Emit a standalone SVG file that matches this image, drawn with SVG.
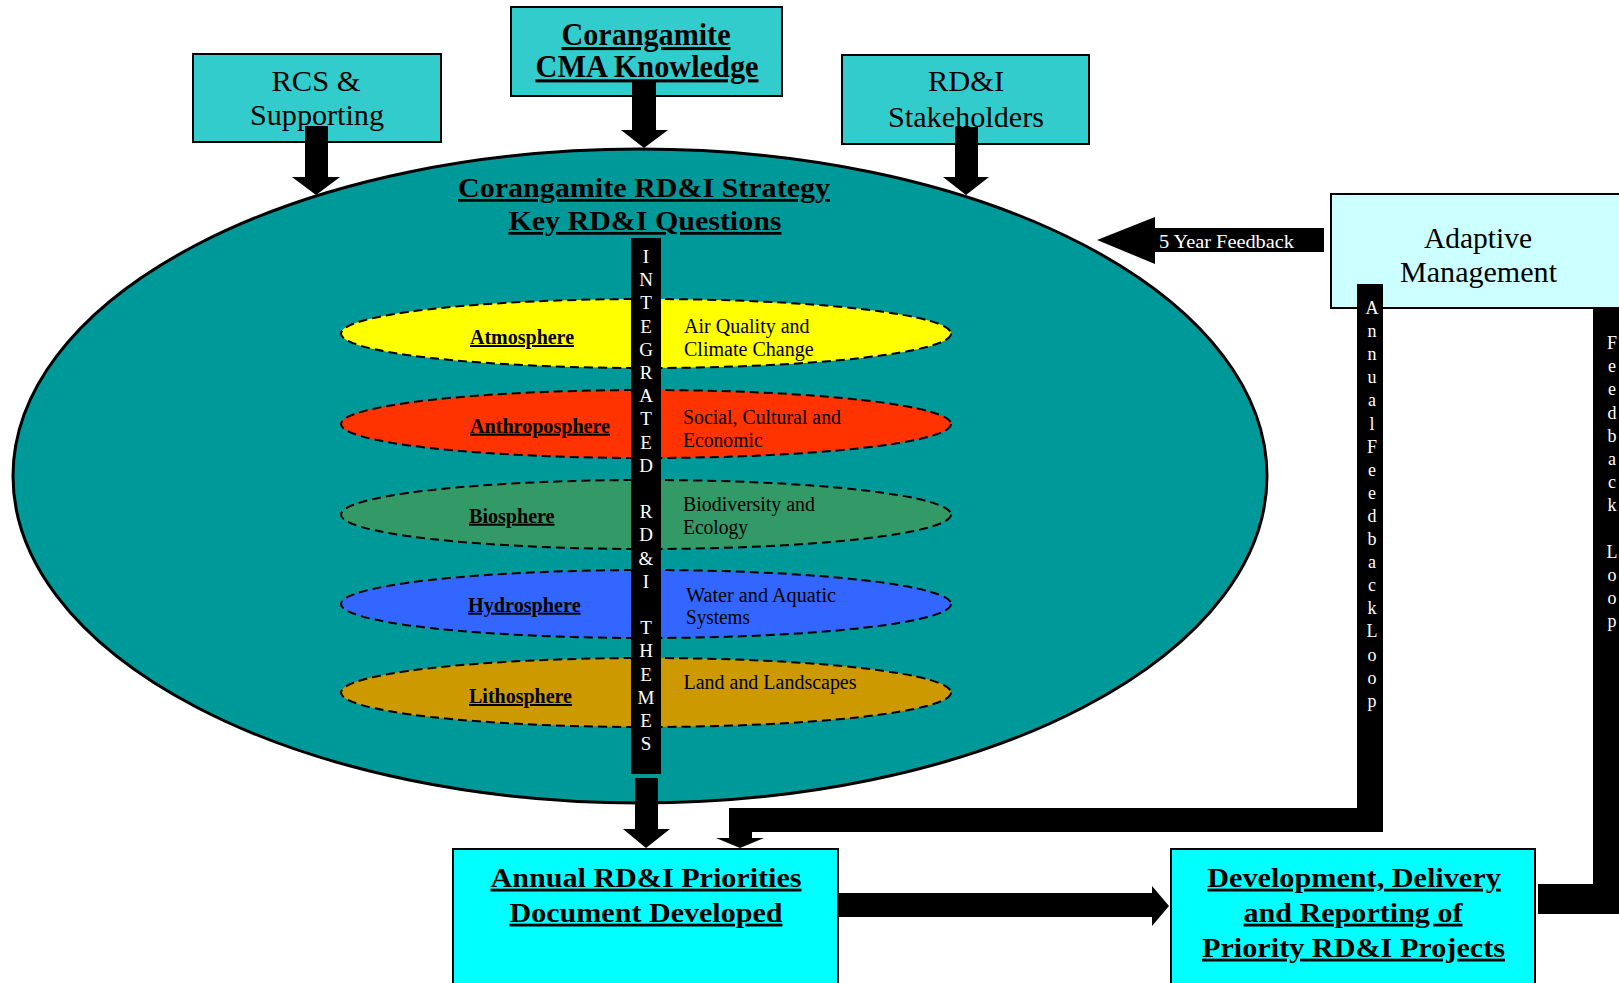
<svg xmlns="http://www.w3.org/2000/svg" width="1619" height="983" viewBox="0 0 1619 983">
<style>
text{font-family:"Liberation Serif","Times New Roman",serif;fill:#000}
.b{font-weight:bold;text-decoration:underline}
.m{text-anchor:middle}
.w{fill:#fff}
.box{stroke:#000;stroke-width:2}
.th{stroke:#000;stroke-width:2;stroke-dasharray:9 5}
.arr{fill:#000}
</style>
<rect width="1619" height="983" fill="#fff"/>

<g id="strategy">
<ellipse cx="640" cy="476" rx="627" ry="327" fill="#009999" stroke="#000" stroke-width="3"/>
<text class="b m" x="644" y="197" font-size="27" textLength="372" lengthAdjust="spacingAndGlyphs">Corangamite RD&amp;I Strategy</text>
<text class="b m" x="645" y="230" font-size="27" textLength="273" lengthAdjust="spacingAndGlyphs">Key RD&amp;I Questions</text>
</g>

<g id="atmosphere">
<ellipse cx="646" cy="333.5" rx="305" ry="34.5" fill="#FFFF00" class="th"/>
<text class="b" x="470" y="344" font-size="20" textLength="104" lengthAdjust="spacingAndGlyphs">Atmosphere</text>
<text x="684" y="332.7" font-size="20" textLength="125.6" lengthAdjust="spacingAndGlyphs">Air Quality and</text>
<text x="684" y="356" font-size="20" textLength="129.7" lengthAdjust="spacingAndGlyphs">Climate Change</text>
</g>
<g id="anthroposphere">
<ellipse cx="646" cy="424" rx="305" ry="34" fill="#FF3300" class="th"/>
<text class="b" x="470" y="432.7" font-size="20" textLength="140" lengthAdjust="spacingAndGlyphs">Anthroposphere</text>
<text x="683" y="424" font-size="20" textLength="158" lengthAdjust="spacingAndGlyphs">Social, Cultural and</text>
<text x="683" y="446.7" font-size="20" textLength="79.6" lengthAdjust="spacingAndGlyphs">Economic</text>
</g>
<g id="biosphere">
<ellipse cx="646" cy="514.5" rx="305" ry="34.5" fill="#339966" class="th"/>
<text class="b" x="469" y="522.7" font-size="20" textLength="85.5" lengthAdjust="spacingAndGlyphs">Biosphere</text>
<text x="683" y="510.7" font-size="20" textLength="132" lengthAdjust="spacingAndGlyphs">Biodiversity and</text>
<text x="683" y="534" font-size="20" textLength="65" lengthAdjust="spacingAndGlyphs">Ecology</text>
</g>
<g id="hydrosphere">
<ellipse cx="646" cy="604" rx="305" ry="34" fill="#3366FF" class="th"/>
<text class="b" x="468" y="611.7" font-size="20" textLength="112.6" lengthAdjust="spacingAndGlyphs">Hydrosphere</text>
<text x="686" y="601.7" font-size="20" textLength="150" lengthAdjust="spacingAndGlyphs">Water and Aquatic</text>
<text x="686" y="624" font-size="20" textLength="64" lengthAdjust="spacingAndGlyphs">Systems</text>
</g>
<g id="lithosphere">
<ellipse cx="646" cy="692.5" rx="305" ry="34.5" fill="#CC9900" class="th"/>
<text class="b" x="469" y="703" font-size="20" textLength="103" lengthAdjust="spacingAndGlyphs">Lithosphere</text>
<text x="683.5" y="689" font-size="20" textLength="173" lengthAdjust="spacingAndGlyphs">Land and Landscapes</text>
</g>

<g id="integrated-themes">
<rect x="631" y="238" width="30" height="536" fill="#000"/>
<text class="w m" font-size="19">
<tspan x="646" y="263">I</tspan><tspan x="646" dy="23.2">N</tspan><tspan x="646" dy="23.2">T</tspan><tspan x="646" dy="23.2">E</tspan><tspan x="646" dy="23.2">G</tspan><tspan x="646" dy="23.2">R</tspan><tspan x="646" dy="23.2">A</tspan><tspan x="646" dy="23.2">T</tspan><tspan x="646" dy="23.2">E</tspan><tspan x="646" dy="23.2">D</tspan><tspan x="646" dy="46.4">R</tspan><tspan x="646" dy="23.2">D</tspan><tspan x="646" dy="23.2">&amp;</tspan><tspan x="646" dy="23.2">I</tspan><tspan x="646" dy="46.4">T</tspan><tspan x="646" dy="23.2">H</tspan><tspan x="646" dy="23.2">E</tspan><tspan x="646" dy="23.2">M</tspan><tspan x="646" dy="23.2">E</tspan><tspan x="646" dy="23.2">S</tspan>
</text>
</g>

<g id="rcs">
<rect x="193" y="54" width="248" height="88" fill="#33CCCC" class="box"/>
<text class="m" x="316" y="90.7" font-size="29" textLength="89" lengthAdjust="spacingAndGlyphs">RCS &amp;</text>
<text class="m" x="317" y="125" font-size="29" textLength="134" lengthAdjust="spacingAndGlyphs">Supporting</text>
</g>
<g id="cma-knowledge">
<rect x="511" y="7" width="271" height="89" fill="#33CCCC" class="box"/>
<text class="b m" x="646" y="45" font-size="31" textLength="169" lengthAdjust="spacingAndGlyphs">Corangamite</text>
<text class="b m" x="647" y="77.3" font-size="31" textLength="223" lengthAdjust="spacingAndGlyphs">CMA Knowledge</text>
</g>
<g id="stakeholders">
<rect x="842" y="55" width="247" height="89" fill="#33CCCC" class="box"/>
<text class="m" x="966" y="90.7" font-size="29" textLength="76" lengthAdjust="spacingAndGlyphs">RD&amp;I</text>
<text class="m" x="966" y="126.7" font-size="29" textLength="156" lengthAdjust="spacingAndGlyphs">Stakeholders</text>
</g>

<g id="connectors">
<polygon class="arr" points="305,126 328,126 328,177 340,177 316,195 292,177 305,177"/>
<polygon class="arr" points="632,80 656,80 656,130 668,130 644,148 621,130 632,130"/>
<polygon class="arr" points="955,127 978,127 978,177 989,177 966,195 943,177 955,177"/>
<polygon class="arr" points="635,778 658,778 658,829 670,829 646,848 623,829 635,829"/>
<polygon class="arr" points="839,893 1152,893 1152,886 1169,906 1152,926 1152,917 839,917"/>
<g id="five-year-feedback">
<polygon class="arr" points="1324,228 1155,228 1155,217 1097,240 1155,264 1155,252 1324,252"/>
<text class="w" x="1159" y="248.3" font-size="19" textLength="135" lengthAdjust="spacingAndGlyphs">5 Year Feedback</text>
</g>
<g id="feedback-loop">
<polygon class="arr" points="1593,308 1625,308 1625,914 1538,914 1538,884 1593,884"/>
<text class="w m" font-size="18">
<tspan x="1612" y="349">F</tspan><tspan x="1612" dy="23.2">e</tspan><tspan x="1612" dy="23.2">e</tspan><tspan x="1612" dy="23.2">d</tspan><tspan x="1612" dy="23.2">b</tspan><tspan x="1612" dy="23.2">a</tspan><tspan x="1612" dy="23.2">c</tspan><tspan x="1612" dy="23.2">k</tspan><tspan x="1612" dy="46.4">L</tspan><tspan x="1612" dy="23.2">o</tspan><tspan x="1612" dy="23.2">o</tspan><tspan x="1612" dy="23.2">p</tspan>
</text>
</g>
</g>

<g id="adaptive-management">
<rect x="1331" y="194" width="300" height="114" fill="#CCFFFF" class="box"/>
<text class="m" x="1478" y="248.3" font-size="30" textLength="108" lengthAdjust="spacingAndGlyphs">Adaptive</text>
<text class="m" x="1478.5" y="281.7" font-size="30" textLength="157" lengthAdjust="spacingAndGlyphs">Management</text>
</g>

<g id="annual-feedback-loop">
<polygon class="arr" points="1357,284 1383,284 1383,832 752,832 752,838 764,838 740,848 716,838 729,838 729,808 1357,808"/>
<text class="w m" font-size="18">
<tspan x="1372" y="314">A</tspan><tspan x="1372" dy="23.1">n</tspan><tspan x="1372" dy="23.1">n</tspan><tspan x="1372" dy="23.1">u</tspan><tspan x="1372" dy="23.1">a</tspan><tspan x="1372" dy="23.1">l</tspan><tspan x="1372" dy="23.1">F</tspan><tspan x="1372" dy="23.1">e</tspan><tspan x="1372" dy="23.1">e</tspan><tspan x="1372" dy="23.1">d</tspan><tspan x="1372" dy="23.1">b</tspan><tspan x="1372" dy="23.1">a</tspan><tspan x="1372" dy="23.1">c</tspan><tspan x="1372" dy="23.1">k</tspan><tspan x="1372" dy="23.1">L</tspan><tspan x="1372" dy="23.1">o</tspan><tspan x="1372" dy="23.1">o</tspan><tspan x="1372" dy="23.1">p</tspan>
</text>
</g>

<g id="annual-priorities">
<rect x="453" y="849" width="385" height="150" fill="#00FFFF" class="box"/>
<text class="b m" x="646" y="886.7" font-size="28" textLength="311" lengthAdjust="spacingAndGlyphs">Annual RD&amp;I Priorities</text>
<text class="b m" x="646" y="921.7" font-size="28" textLength="273" lengthAdjust="spacingAndGlyphs">Document Developed</text>
</g>
<g id="development-delivery">
<rect x="1171" y="849" width="364" height="150" fill="#00FFFF" class="box"/>
<text class="b m" x="1354" y="886.7" font-size="28" textLength="293.5" lengthAdjust="spacingAndGlyphs">Development, Delivery</text>
<text class="b m" x="1353" y="921.7" font-size="28" textLength="219" lengthAdjust="spacingAndGlyphs">and Reporting of</text>
<text class="b m" x="1353.5" y="956.7" font-size="28" textLength="303" lengthAdjust="spacingAndGlyphs">Priority RD&amp;I Projects</text>
</g>
</svg>
